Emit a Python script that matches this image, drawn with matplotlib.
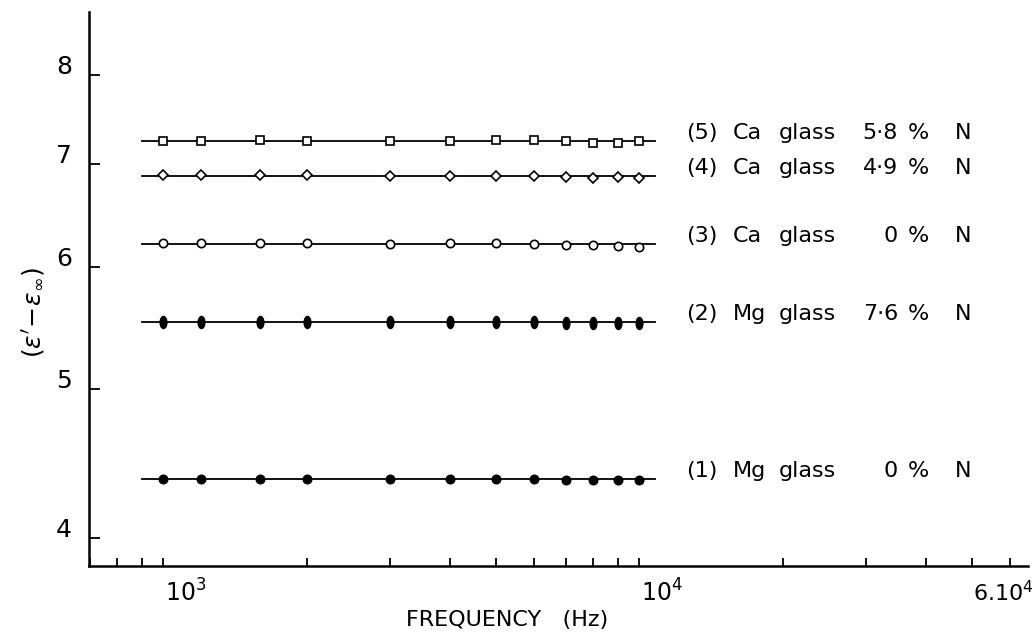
import numpy as np
import matplotlib
matplotlib.use("Agg")
import matplotlib.pyplot as plt
from matplotlib.path import Path
from matplotlib.transforms import Affine2D, ScaledTranslation, blended_transform_factory
from matplotlib.ticker import FixedLocator, NullFormatter

# ---------------- data ----------------
freq = [1000, 1200, 1600, 2000, 3000, 4000, 5000, 6000, 7000, 8000, 9000, 10000]

s5_ca_58N = [7.25, 7.25, 7.26, 7.25, 7.25, 7.25, 7.26, 7.26, 7.25, 7.23, 7.23, 7.25]
s4_ca_49N = [6.89, 6.89, 6.89, 6.89, 6.88, 6.88, 6.88, 6.88, 6.87, 6.86, 6.87, 6.86]
s3_ca_0N = [6.22, 6.22, 6.22, 6.22, 6.21, 6.22, 6.22, 6.21, 6.20, 6.20, 6.19, 6.18]
s2_mg_76N = [5.53, 5.53, 5.53, 5.53, 5.53, 5.53, 5.53, 5.53, 5.52, 5.52, 5.52, 5.52]
s1_mg_0N = [4.37, 4.37, 4.37, 4.37, 4.37, 4.37, 4.37, 4.37, 4.36, 4.36, 4.36, 4.36]

fit_freq = [900, 10800]
fit_values = [7.25, 6.88, 6.21, 5.53, 4.37]

label_nums = ["(5)", "(4)", "(3)", "(2)", "(1)"]
label_metal = ["Ca", "Ca", "Ca", "Mg", "Mg"]
label_pct = ["5·8", "4·9", "0", "7·6", "0"]

y_ticks = [4, 5, 6, 7, 8]
x_major = [1000, 10000, 60000]
x_major_labels = [r"$\mathregular{10^3}$", r"$\mathregular{10^4}$", r"$\mathregular{6.10^4}$"]
x_minor = [700, 800, 900, 2000, 3000, 4000, 5000, 6000, 7000, 8000, 9000,
           20000, 30000, 40000, 50000]

# ---------------- figure ----------------
W, H, DPI = 1036, 636, 100
fig = plt.figure(figsize=(W / DPI, H / DPI), dpi=DPI)
ax = fig.add_axes([89 / W, 1 - 565.7 / H, (1028 - 89) / W, (565.7 - 12) / H])
ax.set_xscale("log")
ax.set_yscale("log")
ax.set_xlim(698, 65560)
ax.set_ylim(3.836, 8.792)

ellipse = Path.unit_circle().transformed(Affine2D().scale(0.55, 1.0))
series = [s5_ca_58N, s4_ca_49N, s3_ca_0N, s2_mg_76N, s1_mg_0N]
markers = ["s", "D", "o", ellipse, "o"]
msizes = [5.5, 5.0, 6.0, 8.5, 6.0]
faces = ["white", "white", "white", "black", "black"]

for vals, fv, mk, ms, fc in zip(series, fit_values, markers, msizes, faces):
    ax.plot(fit_freq, [fv, fv], color="black", lw=1.3, zorder=2)
    ax.plot(freq, vals, linestyle="none", marker=mk, ms=ms, mfc=fc,
            mec="black", mew=1.2, zorder=3)

# spines
for side in ["top", "right"]:
    ax.spines[side].set_visible(False)
for side in ["left", "bottom"]:
    ax.spines[side].set_linewidth(1.8)

# ticks
ax.yaxis.set_major_locator(FixedLocator(y_ticks))
ax.yaxis.set_minor_locator(FixedLocator([]))
ax.yaxis.set_major_formatter(NullFormatter())
ax.yaxis.set_minor_formatter(NullFormatter())
ax.xaxis.set_major_locator(FixedLocator(x_major))
ax.xaxis.set_minor_locator(FixedLocator(x_minor))
ax.xaxis.set_major_formatter(NullFormatter())
ax.xaxis.set_minor_formatter(NullFormatter())
ax.tick_params(axis="y", which="major", direction="in", length=8, width=1.3)
ax.tick_params(axis="x", which="both", direction="in", length=6, width=1.3)

# y tick labels
ytr = ax.get_yaxis_transform() + ScaledTranslation(-0.17, 0.08, fig.dpi_scale_trans)
for v in y_ticks:
    ax.text(0, v, str(v), transform=ytr, ha="right", va="center", fontsize=18)

# x tick labels
xtr = ax.get_xaxis_transform() + ScaledTranslation(0.0, -0.27, fig.dpi_scale_trans)
for i, (v, lab) in enumerate(zip(x_major, x_major_labels)):
    if i < 2:
        ax.text(v, 0, lab, transform=xtr + ScaledTranslation(0.02, 0, fig.dpi_scale_trans),
                ha="left", va="center", fontsize=17)
    else:
        ax.text(v, 0, lab, transform=xtr + ScaledTranslation(0.24, 0, fig.dpi_scale_trans),
                ha="right", va="center", fontsize=16)

# axis labels
fig.text(507 / W, 1 - 620 / H, "FREQUENCY   (Hz)", ha="center", va="center", fontsize=16)
fig.text(34 / W, 1 - 313 / H, r"$(\varepsilon' \!-\! \varepsilon_{\infty})$",
         rotation=90, ha="center", va="center", fontsize=18)

# series labels
btr = blended_transform_factory(fig.transFigure, ax.transData) + \
    ScaledTranslation(0, 0.08, fig.dpi_scale_trans)
for fv, num, metal, pct in zip(fit_values, label_nums, label_metal, label_pct):
    kw = dict(transform=btr, va="center", fontsize=16)
    ax.text(686 / W, fv, num, ha="left", **kw)
    ax.text(733 / W, fv, metal, ha="left", **kw)
    ax.text(779 / W, fv, "glass", ha="left", **kw)
    ax.text(898 / W, fv, pct, ha="right", **kw)
    ax.text(908 / W, fv, "%", ha="left", **kw)
    ax.text(955 / W, fv, "N", ha="left", **kw)

fig.savefig("out.png", dpi=DPI)
